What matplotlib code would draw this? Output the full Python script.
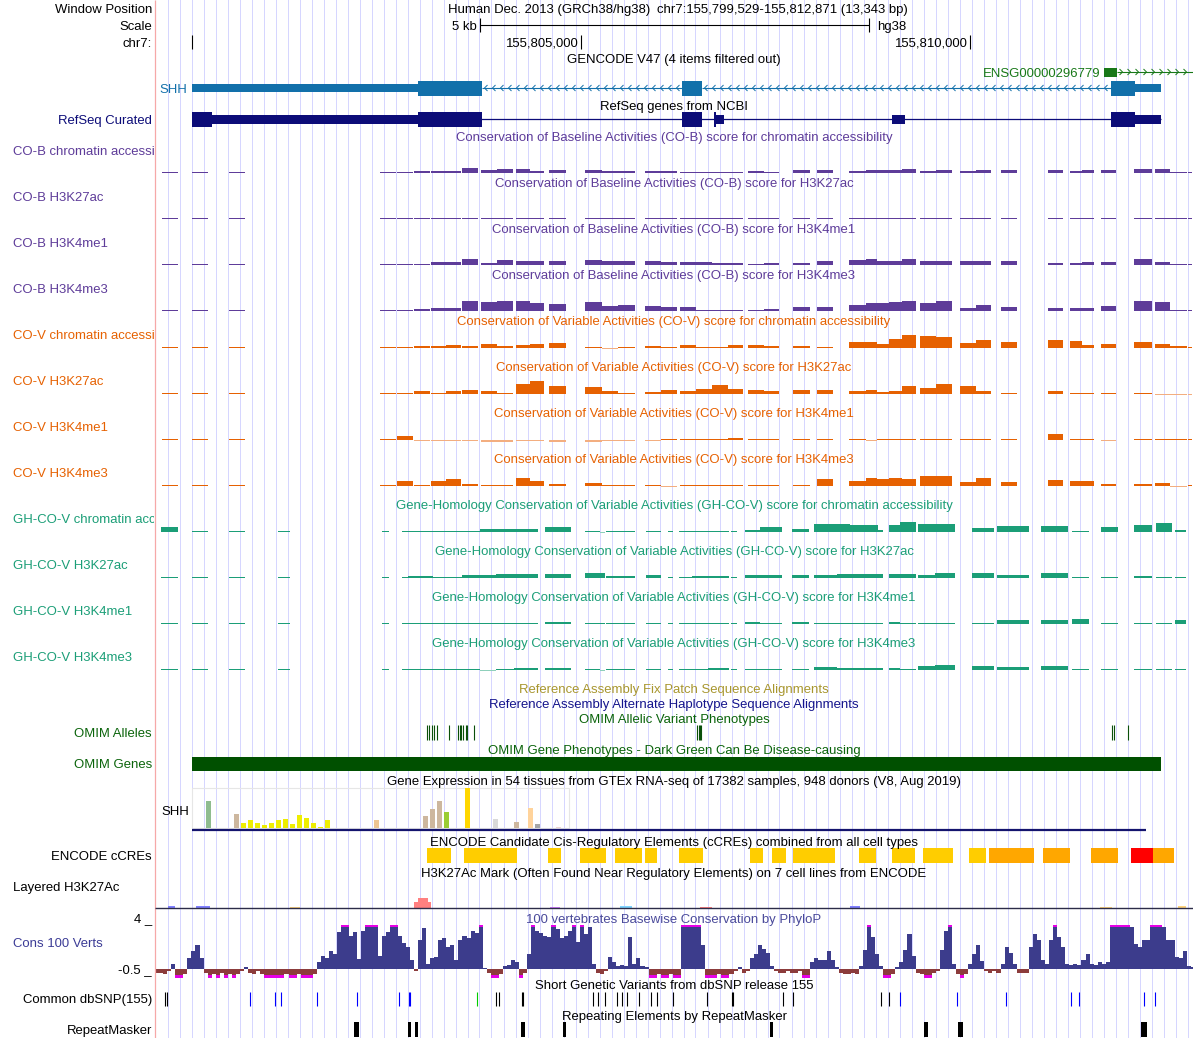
import numpy as np
import matplotlib
matplotlib.use("Agg")
import matplotlib.pyplot as plt
from matplotlib.collections import LineCollection
from matplotlib.patches import Rectangle
from matplotlib.transforms import Bbox

W, H = 1194, 1038
WIN_START, WIN_END = 155799529, 155812871
WIN_LEN = WIN_END - WIN_START + 1          # 13,343 bp
X0, X1 = 155, 1193.1                        # data area in pixels
PX = WIN_LEN / (X1 - X0)                    # bp per pixel

FONT = "Liberation Sans"
FS = 9.45

PURPLE, ORANGE, ORANGE_LT = "#5e3c99", "#e66101", "#f3ae80"
GREEN, GREEN_LT = "#1b9e77", "#8fd0bb"
GENC, ENSG_C, NAVY = "#1270aa", "#187818", "#0c0c78"
OMIM_TXT, OMIM_BAR = "#0b640b", "#005000"
CONS, CONS_NEG, MAGENTA = "#3c3c8c", "#8c3c3c", "#e600e6"

# ---------------- data (positions in bp from window start) ----------------
chrom_ticks = [155800000, 155805000, 155810000]

gencode_cds = [(3380, 4203), (6774, 7031), (12287, 12596)]
gencode_utr = [(476, 3380), (12596, 12930)]
gencode_introns = [(4203, 6774), (7031, 12287)]
ensg_exon = (12198, 12365)

refseq_thick = [(476, 733), (3380, 4203), (6774, 7031), (7185, 7211), (12287, 12596)]
refseq_thin = [(733, 3380), (7211, 7314), (9473, 9640), (12596, 12930)]
refseq_span = (476, 12930)

# CO-B / CO-V score bins
co_start = [90, 476, 951, 2892, 3110, 3329, 3548, 3740, 3946, 4190, 4396, 4640, 4820, 5064,
            5527, 5745, 5951, 6298, 6504, 6748, 6954, 7159, 7365, 7622, 7827, 8200, 8509,
            8920, 9138, 9280, 9434, 9601, 9833, 10038, 10347, 10552, 10874, 11478, 11760,
            11915, 12159, 12583, 12853, 13046, 13277]
co_end = [296, 681, 1157, 3098, 3316, 3535, 3740, 3933, 4152, 4396, 4601, 4820, 5000, 5283,
          5745, 5951, 6169, 6504, 6709, 6954, 7159, 7365, 7557, 7827, 8020, 8419, 8714,
          9138, 9280, 9434, 9601, 9781, 10038, 10244, 10552, 10745, 11079, 11671, 11915,
          12069, 12352, 12814, 13046, 13264, 13328]

cob_chrom = [1, 1, 1, 1.3, 1, 1.7, 2.3, 2.3, 5.3, 2.7, 4.3, 4.3, 2.3, 3.3, 3.3, 2.3, 2.3, 1.7,
             2.3, 1.4, 1.4, 1.4, 1.4, 1.7, 0.8, 2.7, 2.7, 2.4, 3.4, 3, 3, 4.4, 2.4, 3, 2.4, 3,
             3.4, 3.4, 2.4, 3, 2.7, 4.4, 4.4, 0.7, 1.3]
cob_h3k27ac = [0.8, 0.8, 0.8, 0.8, 0.8, 0.8, 0.8, 0.8, 0.8, 0.8, 0.8, 0.8, 0.8, 0.8, 0.8,
               0.8, 0.8, 0.8, 0.8, 0.8, 0.8, 0.8, 0.8, 0.8, 0.8, 0.8, 0.8, 0.8, 0.8, 0.8,
               0.8, 0.8, 0.8, 0.8, 0.8, 0.8, 0.8, 0.8, 0.8, 0.8, 0.8, 0.8, 0.8, 0.8, 0.8]
cob_h3k4me1 = [1, 1, 1, 1, 1, 1.3, 2.7, 3.3, 6.3, 2, 5.3, 4.3, 3.7, 4.3, 5.3, 4, 4.3, 3.7,
               3.4, 3.4, 2.7, 2, 2, 1, 1.7, 2.4, 4.4, 4.8, 5.8, 3.7, 4.4, 5.8, 4.4, 4.4, 3.7,
               4.4, 3.7, 2.4, 2.4, 3, 3.4, 5.8, 3.4, 0.7, 1]
cob_h3k4me3 = [1, 1, 1, 1, 1, 1.7, 3, 3, 10.3, 9.3, 10.3, 10, 8.3, 7.3, 9.3, 5, 6.3, 4.7,
               4.4, 3.7, 1.4, 1.4, 1.4, 1, 2.4, 3.7, 4.4, 6.5, 8.2, 7.8, 8.9, 10.2, 7.8, 9.5,
               3, 6.1, 4.4, 3, 3, 3, 5.4, 10.2, 9.2, 1, 1]
cov_chrom = [0.8, 0.8, 0.8, 0.7, 0.7, 2.3, 2.3, 3.3, 2.3, 4.3, 2.3, 3, 4.3, 5.3, 1.3, -1,
             0.7, 2.3, 0.7, 3.3, 1.3, 1.3, 3.3, 3.3, 2, 2, 1.3, 6, 6, 4, 8.7, 13.3, 12.3,
             11.3, 5, 8.3, 6.3, 8.3, 7.3, 3.3, 4.3, 6.3, 4.3, 2.3, 1]
cov_h3k27ac = [0.8, 0.8, 0.8, 0.7, 0.7, 3.3, 1.3, 3.3, 4.3, 3.3, 1.3, 10, 13.3, 8.3, 7.3, 3,
               0.7, 2.3, 4, 3.3, 5.3, 9.3, 5.3, 4.3, 3.3, 4.3, 4.3, 2.7, 4, 1.7, 3.3, 7.7, 6,
               10.3, 8.3, 3.3, 0.5, 3.3, 0.5, 0.5, 1, 1.3, -0.5, -0.5, -0.5]
cov_h3k4me1 = [0.5, 0.5, 0.5, 0.7, 4, -0.5, -0.5, -0.5, -0.5, -1.5, -1.5, -0.5, -0.5, -2,
               -1.5, -0.5, -0.5, -0.5, 0.5, 0.5, 0.7, 0.5, 2, 0.5, 0.7, 0.5, 0.5, 0.7, -0.3,
               0.5, 0.5, 0.5, 0.5, 0.5, 0.5, 0.5, 0.5, 6, 0.5, 0.5, -0.5, 0.7, 0.7, 0.7, 0.5]
cov_h3k4me3 = [0.5, 0.5, 0.5, 0.5, 4.7, 0.7, 5.3, 6.7, 2, 0.7, 0.7, 7.7, 4.7, 2, 2.7, 0.7,
               0.5, 0.5, -0.3, 0.5, 0.7, 0.7, 0.5, 0.7, 0.5, 1.3, 7, 5.3, 7.7, 6.7, 7.7, 7,
               10.3, 9.7, 4, 8, 3.7, 6.3, 4.7, 5.3, 1.7, 1.7, 3.3, -0.3, 0.5]

# GH-CO-V score bins
gh_start = [77, 476, 951, 1581, 2918, 3175, 3252, 3573, 3946, 4177, 4383, 4614, 4820, 5013,
            5527, 5720, 5797, 6311, 6594, 6735, 6902, 7108, 7403, 7583, 7776, 8187, 8470,
            8766, 8933, 9293, 9434, 9575, 9807, 10025, 10501, 10822, 11388, 11786, 12159,
            12583, 12866, 13110]
gh_end = [296, 681, 1157, 1735, 3008, 3252, 3573, 3946, 4177, 4383, 4614, 4820, 4923, 5347,
          5720, 5784, 6169, 6504, 6658, 6902, 7108, 7378, 7480, 7776, 8059, 8406, 8766,
          8933, 9293, 9357, 9575, 9781, 10025, 10282, 10784, 11234, 11735, 12005, 12377,
          12814, 13072, 13251]
ghc_chrom = [5, 0.7, 0.7, 0.7, 0.7, 0.5, 0.7, 0.7, 1.3, 3, 3, 2.7, 3, 5, 0.7, -0.5, 0.7,
             0.7, 0.7, 0.7, 1.3, 0.7, 0.5, 2.3, 5, 3, 8, 8, 7.3, 2.3, 7.3, 10, 8.3, 8.3,
             4.3, 6.3, 6.3, 1.3, 5.3, 7.3, 8.7, 2.3]
ghc_h3k27ac = [0.7, 0.7, 0.7, 0.7, 0.5, 0.5, 1.7, 0.5, 2.7, 2.7, 3.7, 3.7, 3.7, 4, 5.3, 5.3,
               2.3, 3, 1.3, 1.3, 2.3, 2.3, 0.5, 3.3, 3.3, 3, 3, 4, 4, 4, 4.3, 4.3, 3.3, 5.3,
               5.3, 3.3, 5.3, 1.3, 1.3, 2.3, 1.3, 0.5]
ghc_h3k4me1 = [0.5, 0.5, 0.5, 0.5, 0.5, 0.7, 0.7, 0.7, 0.7, 0.5, 0.5, 0.5, 0.5, 1.7, 0.7,
               0.7, 0.7, 0.5, 0.5, 0.7, 0.7, 0.7, 0.5, 2.3, 0.7, 2.3, 0.5, 0.5, 0.5, 0.5,
               1.7, 0.7, 0.5, 0.5, 1.3, 3.7, 4.3, 5, 0.5, 0.5, 1.3, 4]
ghc_h3k4me3 = [0.5, 0.5, 0.5, 0.5, 0.5, 0.7, 0.7, 1.3, 0.7, -0.5, 0.7, 2.3, 2.3, 2.3, 0.7,
               -0.3, 0.5, 0.5, 0.5, 1.3, 0.5, 2.3, 0.5, 1.3, 1.3, 0.7, 3.3, 2.3, 2.3, 2.3,
               2.3, 0.7, 4.3, 5.3, 4.3, 3.3, 4.3, 1.3, 1, 0.5, 1, 0.5]

omim_alleles = [3496, 3522, 3560, 3586, 3625, 3779, 3894, 3920, 3939, 3959, 3991, 4010, 4100,
                6966, 6986, 7005, 7024, 12300, 12326, 12506]
omim_gene = (476, 12930)

gtex_expr = [0, 0, 27, 0, 0, 0, 14, 5, 8, 5, 3, 5, 8, 9, 4, 13, 10, 5, 1, 8, 0, 0, 0, 0, 0,
             0, 8, 0, 0, 0, 0, 0, 0, 12, 19, 27, 16, 0, 0, 40, 0, 0, 0, 9, 0, 0, 6, 0, 20, 4,
             0, 0, 1, 0]
gtex_colors = ["#FFA54F", "#EE9A00", "#8FBC8F", "#8B1C62", "#EE6A50", "#FF0000", "#CDB79E",
               "#EEEE00", "#EEEE00", "#EEEE00", "#EEEE00", "#EEEE00", "#EEEE00", "#EEEE00",
               "#EEEE00", "#EEEE00", "#EEEE00", "#EEEE00", "#EEEE00", "#EEEE00", "#00CDCD",
               "#CC66FF", "#9AC0CD", "#EED5D2", "#EED5D2", "#CDB79E", "#EEC591", "#8B7355",
               "#8B7355", "#CDAA7D", "#EED5D2", "#B452CD", "#7A378B", "#CDB79E", "#CDB79E",
               "#CDB79E", "#9ACD32", "#CDB79E", "#7A67EE", "#FFD700", "#FFB6C1", "#CD9B1D",
               "#B4EEB4", "#D9D9D9", "#3A5FCD", "#1E90FF", "#CDB79E", "#CDB79E", "#FFD39B",
               "#A6A6A6", "#008B45", "#EED5D2", "#EED5D2", "#FF00FF"]
gtex_gene = (476, 12737)

ccre_start = [3496, 3972, 5051, 5463, 5912, 6298, 6735, 7648, 7931, 8200, 9048, 9473, 9871,
              10462, 10719, 11413, 12030, 12545, 12828]
ccre_end = [3804, 4653, 5218, 5797, 6259, 6452, 7043, 7815, 8111, 8740, 9267, 9768, 10257,
            10681, 11298, 11760, 12377, 12828, 13097]
ccre_class = ["dELS", "dELS", "dELS", "dELS", "dELS", "dELS", "dELS", "dELS", "dELS", "dELS",
              "dELS", "dELS", "dELS", "dELS", "pELS", "pELS", "pELS", "PLS", "pELS"]

h3k27_start = [167, 527, 1735, 3329, 3380, 3509, 5077, 5977, 7005, 8933, 12146, 13149]
h3k27_end = [257, 707, 1864, 3380, 3509, 3548, 5205, 6131, 7159, 9061, 12300, 13251]
h3k27_val = [1.5, 2, 1, 6, 10, 6, 1, 1.5, 1, 1.5, 1, 1.5]
h3k27_cell = ["K562", "K562", "H1", "GM12878", "GM12878", "GM12878", "NHEK", "HUVEC",
              "GM12878", "K562", "H1", "H1"]

PHYLOP_STEP = 52
phylop = [-0.3, -0.3, -0.4, -0.2, 0.45, -0.6, -0.6, -0.4, 1.0, 1.6,
          2.2, 1.0, -0.3, -0.6, -0.4, -0.9, -0.3, -0.6, -0.4, -0.9,
          -0.4, -0.2, 0.2, -0.3, -0.4, -0.2, -0.4, -0.9, -0.6, -0.9,
          -0.6, -0.9, -0.4, -0.9, -0.6, -0.4, -0.9, -0.6, -0.9, -0.4,
          0.6, 1.2, 1.0, 1.6, 1.4, 3.4, 4.6, 4.3, 3.0, 3.4,
          0.9, 3.5, 4.4, 4.8, 4.2, 1.2, 3.0, 3.4, 4.5, 4.2,
          3.0, 2.4, 2.0, 0.8, -0.2, 2.6, 3.7, 0.5, 1.0, 1.1,
          2.6, 2.8, 2.0, 2.2, 0.8, 2.6, 3.0, 2.8, 3.5, 3.3,
          4.3, 0.1, -0.3, -0.6, -0.9, -0.4, 0.3, 0.4, 0.8, 0.6,
          -0.6, -0.3, 1.4, 4.4, 3.5, 3.3, 3.0, 2.9, 4.2, 3.6,
          2.8, 3.0, 3.5, 4.3, 2.5, 4.5, 3.2, 3.8, 0.5, -0.3,
          -0.4, -0.2, 1.1, 0.6, 0.3, 0.4, 0.3, 2.9, 0.5, 1.0,
          0.3, 0.2, -0.6, -0.9, -0.4, -0.9, -0.6, -0.4, -0.9, -0.6,
          4.8, 5.1, 4.9, 5.2, 4.7, 2.2, -0.9, -0.6, -0.9, -0.4,
          -0.6, -0.9, -0.4, -0.2, 0.2, -0.3, -0.2, 1.0, 1.4, 2.2,
          1.8, 1.5, 0.3, -0.2, -0.3, -0.3, -0.2, -0.35, -0.3, -0.2,
          -0.6, -0.9, 0.6, 1.0, 0.8, 0.8, 1.6, 0.8, 0.2, -0.3,
          -0.4, -0.4, -0.3, -0.4, 0.3, 1.7, 4.3, 2.9, 1.4, 0.3,
          -0.6, -0.9, -0.4, 0.2, 0.6, 1.7, 3.2, 1.2, -0.3, -0.4,
          -0.9, -0.6, -0.3, -0.2, 1.7, 3.5, 4.2, 0.5, -0.4, -0.9,
          -0.4, 0.5, 1.4, 2.2, 0.7, -0.2, -0.3, -0.2, -0.3, 0.5,
          2.0, 1.5, 0.5, -0.3, -0.35, -0.3, 2.0, 3.2, 2.6, 0.8,
          0.5, 2.6, 4.2, 2.9, 2.0, 0.5, 0.4, 0.5, 0.4, 0.8,
          1.4, 0.5, 0.4, 0.6, 0.5, 0.6, 4.6, 5.0, 4.8, 4.7,
          4.9, 3.8, 2.3, 2.0, 2.6, 2.6, 4.4, 4.6, 4.3, 3.8,
          2.6, 2.6, 1.1, 1.0, 1.6, 0.3, 0.2]

snp_pos = [129, 154, 1221, 1542, 1619, 2082, 2596, 3136, 3265, 3278, 4139, 4383, 4421, 4717,
           4730, 5630, 5694, 5784, 5938, 6002, 6067, 6221, 6375, 6452, 6658, 7095, 7416, 7429,
           8072, 8200, 9331, 9434, 9575, 10308, 10938, 11773, 11876, 12712, 12853]
snp_kind = ["k", "k", "b", "b", "b", "b", "b", "b", "b", "b", "g", "k", "k", "k", "k", "k",
            "k", "k", "k", "k", "k", "k", "k", "k", "k", "k", "k", "k", "k", "k", "k", "k",
            "b", "b", "b", "b", "b", "b", "b"]

rmsk_start = [2558, 3252, 3342, 4704, 5244, 7905, 9884, 10321, 12673]
rmsk_end = [2622, 3290, 3380, 4756, 5283, 7944, 9935, 10385, 12750]

# ---------------- figure ----------------
fig = plt.figure(figsize=(W / 100, H / 100), dpi=100)
ax = fig.add_axes([X0 / W, 0, (X1 - X0) / W, 1])
ax.set_xlim(0, WIN_LEN)
ax.set_ylim(H, 0)
ax.axis("off")

LABEL_BOX = Bbox([[0, 0], [154, H]])   # left label column, display pixels


def bp2px(b):
    return X0 + b / PX


def txt(x, y, s, color="black", ha="left", clip=False):
    t = fig.text(x / W, 1 - (y + 4.7) / H, s, color=color, ha=ha, va="baseline",
                 fontsize=FS, family=FONT)
    if clip:
        t.set_clip_box(LABEL_BOX)
        t.set_clip_on(True)


def blocks(spans, yc, half, color):
    for s, e in spans:
        ax.bar(s, 2 * half, width=e - s, bottom=yc - half, align="edge", color=color, lw=0)


def chevrons(s, e, y, color, pointing):
    d = -1 if pointing == "<" else 1
    segs = []
    for x in np.arange(s + 4 * PX, e - 2 * PX, 8 * PX):
        segs.append([(x - d * 1.5 * PX, y - 3), (x + d * 1.5 * PX, y), (x - d * 1.5 * PX, y + 3)])
    ax.add_collection(LineCollection(segs, colors=color, linewidths=0.7))


def signal(starts, ends, vals, base, color, neg_color=None):
    s, e, v = np.array(starts), np.array(ends), np.array(vals, float)
    # whole pixels, at least one, as the browser draws them
    h = np.sign(v) * np.maximum(np.round(np.abs(v)), 1)
    cols = [color if x >= 0 else neg_color for x in v]
    ax.bar(s, -h, width=e - s, bottom=base, align="edge", color=cols, lw=0)


# guidelines and left border
ax.vlines(np.arange(12, X1 - X0, 12) * PX + 0.5 * PX, 0, H, color="#d6d6ff", lw=0.72,
          antialiaseds=False, zorder=0)
ax.vlines(0.3 * PX, 0, H, color="#f6a8a8", lw=0.9, clip_on=False)

# header
txt(152, 8, "Window Position", ha="right")
txt(448, 8, "Human Dec. 2013 (GRCh38/hg38)")
txt(657, 8, "chr7:155,799,529-155,812,871 (13,343 bp)")
txt(152, 25, "Scale", ha="right")
s0 = WIN_LEN / 2 - 2500
ax.hlines(25, s0, s0 + 5000, color="black", lw=0.8)
ax.vlines([s0, s0 + 5000], 18, 32, color="black", lw=0.8)
txt(bp2px(s0) - 3, 25, "5 kb", ha="right")
txt(bp2px(s0 + 5000) + 9, 25, "hg38")
txt(152, 42, "chr7:", ha="right")
for t in chrom_ticks:
    ax.vlines(t - WIN_START, 35, 49, color="black", lw=0.8)
    if bp2px(t - WIN_START) > 300:
        txt(bp2px(t - WIN_START) - 2, 42, f"{t:,}", ha="right")

# GENCODE
txt(674, 58, "GENCODE V47 (4 items filtered out)", ha="center")
ax.hlines(72, ensg_exon[1], WIN_LEN, color=ENSG_C, lw=0.8)
chevrons(ensg_exon[1], WIN_LEN, 72, ENSG_C, ">")
blocks([ensg_exon], 72, 4.5, ENSG_C)
txt(bp2px(ensg_exon[0]) - 4, 72, "ENSG00000296779", ENSG_C, ha="right")
for s, e in gencode_introns:
    ax.hlines(88, s, e, color=GENC, lw=0.8)
    chevrons(s, e, 88, GENC, "<")
blocks(gencode_utr, 88, 4, GENC)
blocks(gencode_cds, 88, 7.5, GENC)
txt(187, 88, "SHH", GENC, ha="right")

# RefSeq
txt(674, 105, "RefSeq genes from NCBI", ha="center")
txt(152, 119, "RefSeq Curated", NAVY, ha="right")
ax.hlines(119, *refseq_span, color=NAVY, lw=0.9)
blocks(refseq_thin, 119, 4.5, NAVY)
blocks(refseq_thick, 119, 7.5, NAVY)

# conservation score tracks
co_tracks = [
    ("CO-B chromatin accessi", "Conservation of Baseline Activities (CO-B) score for chromatin accessibility", cob_chrom),
    ("CO-B H3K27ac", "Conservation of Baseline Activities (CO-B) score for H3K27ac", cob_h3k27ac),
    ("CO-B H3K4me1", "Conservation of Baseline Activities (CO-B) score for H3K4me1", cob_h3k4me1),
    ("CO-B H3K4me3", "Conservation of Baseline Activities (CO-B) score for H3K4me3", cob_h3k4me3),
]
for i, (lab, title, vals) in enumerate(co_tracks):
    y = 136 + 46 * i
    txt(674, y, title, PURPLE, ha="center")
    txt(13, y + 14, lab, PURPLE, clip=True)
    signal(co_start, co_end, vals, y + 37, PURPLE)

cov_tracks = [
    ("CO-V chromatin accessi", "Conservation of Variable Activities (CO-V) score for chromatin accessibility", cov_chrom),
    ("CO-V H3K27ac", "Conservation of Variable Activities (CO-V) score for H3K27ac", cov_h3k27ac),
    ("CO-V H3K4me1", "Conservation of Variable Activities (CO-V) score for H3K4me1", cov_h3k4me1),
    ("CO-V H3K4me3", "Conservation of Variable Activities (CO-V) score for H3K4me3", cov_h3k4me3),
]
for i, (lab, title, vals) in enumerate(cov_tracks):
    y = 320 + 46 * i
    txt(674, y, title, ORANGE, ha="center")
    txt(13, y + 14, lab, ORANGE, clip=True)
    signal(co_start, co_end, vals, y + 28, ORANGE, ORANGE_LT)

gh_tracks = [
    ("GH-CO-V chromatin acc", "Gene-Homology Conservation of Variable Activities (GH-CO-V) score for chromatin accessibility", ghc_chrom),
    ("GH-CO-V H3K27ac", "Gene-Homology Conservation of Variable Activities (GH-CO-V) score for H3K27ac", ghc_h3k27ac),
    ("GH-CO-V H3K4me1", "Gene-Homology Conservation of Variable Activities (GH-CO-V) score for H3K4me1", ghc_h3k4me1),
    ("GH-CO-V H3K4me3", "Gene-Homology Conservation of Variable Activities (GH-CO-V) score for H3K4me3", ghc_h3k4me3),
]
for i, (lab, title, vals) in enumerate(gh_tracks):
    y = 504 + 46 * i
    txt(674, y, title, GREEN, ha="center")
    txt(13, y + 14, lab, GREEN, clip=True)
    signal(gh_start, gh_end, vals, y + 28, GREEN, GREEN_LT)

# patches / OMIM
txt(674, 688, "Reference Assembly Fix Patch Sequence Alignments", "#a8962e", ha="center")
txt(674, 703, "Reference Assembly Alternate Haplotype Sequence Alignments", "#14148c", ha="center")
txt(674, 718, "OMIM Allelic Variant Phenotypes", OMIM_TXT, ha="center")
txt(152, 732, "OMIM Alleles", OMIM_TXT, ha="right")
ax.vlines(omim_alleles, 725, 740, color="#0a500a", lw=0.8)
txt(674, 749, "OMIM Gene Phenotypes - Dark Green Can Be Disease-causing", OMIM_TXT, ha="center")
txt(152, 763, "OMIM Genes", OMIM_TXT, ha="right")
ax.bar(omim_gene[0], 14, width=omim_gene[1] - omim_gene[0], bottom=756.5, align="edge",
       color=OMIM_BAR, lw=0)

# GTEx
txt(674, 780, "Gene Expression in 54 tissues from GTEx RNA-seq of 17382 samples, 948 donors (V8, Aug 2019)",
    ha="center")
txt(161, 810, "SHH")
ax.add_patch(Rectangle((gtex_gene[0], 788), (len(gtex_expr) * 7 - 1) * PX, 40, fill=False,
                       ec="#e6e6e6", lw=0.8))
ax.bar(gtex_gene[0] + np.arange(len(gtex_expr)) * 7 * PX, -np.array(gtex_expr, float),
       width=5 * PX, bottom=828, align="edge", color=gtex_colors, lw=0)
ax.hlines(829.8, *gtex_gene, color="#14146e", lw=1.6)

# ENCODE cCREs
txt(674, 841, "ENCODE Candidate Cis-Regulatory Elements (cCREs) combined from all cell types",
    ha="center")
txt(152, 855, "ENCODE cCREs", ha="right")
ccre_col = {"PLS": "#ff0000", "pELS": "#ffa700", "dELS": "#ffcd00"}
ax.bar(ccre_start, 15, width=np.array(ccre_end) - np.array(ccre_start), bottom=848,
       align="edge", color=[ccre_col[c] for c in ccre_class], lw=0)

# Layered H3K27Ac
txt(674, 872, "H3K27Ac Mark (Often Found Near Regulatory Elements) on 7 cell lines from ENCODE",
    ha="center")
txt(13, 886, "Layered H3K27Ac")
cell_col = {"GM12878": "#ff8080", "H1": "#ffd480", "HSMM": "#78ebcc", "HUVEC": "#80d4ff",
            "K562": "#8080ff", "NHEK": "#d480ff", "NHLF": "#ff80d4"}
ax.bar(h3k27_start, -np.array(h3k27_val), width=np.array(h3k27_end) - np.array(h3k27_start),
       bottom=907.5, align="edge", color=[cell_col[c] for c in h3k27_cell], lw=0)
ax.hlines(908, 0, WIN_LEN, color="#2c2c48", lw=1.0)

# PhyloP
txt(674, 918, "100 vertebrates Basewise Conservation by PhyloP", "#4a4a9a", ha="center")
txt(152, 917, "4 _", ha="right")
txt(13, 942, "Cons 100 Verts", "#3c3c96")
txt(152, 968, "-0.5 _", ha="right")
ph = np.array(phylop)
ph_x = np.arange(len(ph)) * PHYLOP_STEP
ZERO = 969
ax.bar(ph_x, -np.clip(ph, 0, 4) * 11, width=PHYLOP_STEP, bottom=ZERO, align="edge", color=CONS, lw=0)
ax.bar(ph_x, -np.clip(ph, -0.5, 0) * 12, width=PHYLOP_STEP, bottom=ZERO, align="edge",
       color=CONS_NEG, lw=0)
ax.bar(ph_x[ph > 4], 2.2, width=PHYLOP_STEP, bottom=ZERO - 44, align="edge", color=MAGENTA, lw=0)
ax.bar(ph_x[ph < -0.5], 2.5, width=PHYLOP_STEP, bottom=ZERO + 6, align="edge", color=MAGENTA, lw=0)

# dbSNP
txt(674, 984, "Short Genetic Variants from dbSNP release 155", ha="center")
txt(152, 998, "Common dbSNP(155)", ha="right")
snp_col = {"k": "black", "b": "#0000ff", "g": "#00cc00"}
ax.vlines(snp_pos, 991.5, 1005.5, color=[snp_col[k] for k in snp_kind], lw=0.8)

# RepeatMasker
txt(674, 1015, "Repeating Elements by RepeatMasker", ha="center")
txt(152, 1029, "RepeatMasker", ha="right")
ax.bar(rmsk_start, 15, width=np.array(rmsk_end) - np.array(rmsk_start), bottom=1022,
       align="edge", color="black", lw=0)

fig.savefig("out.png", dpi=100)
